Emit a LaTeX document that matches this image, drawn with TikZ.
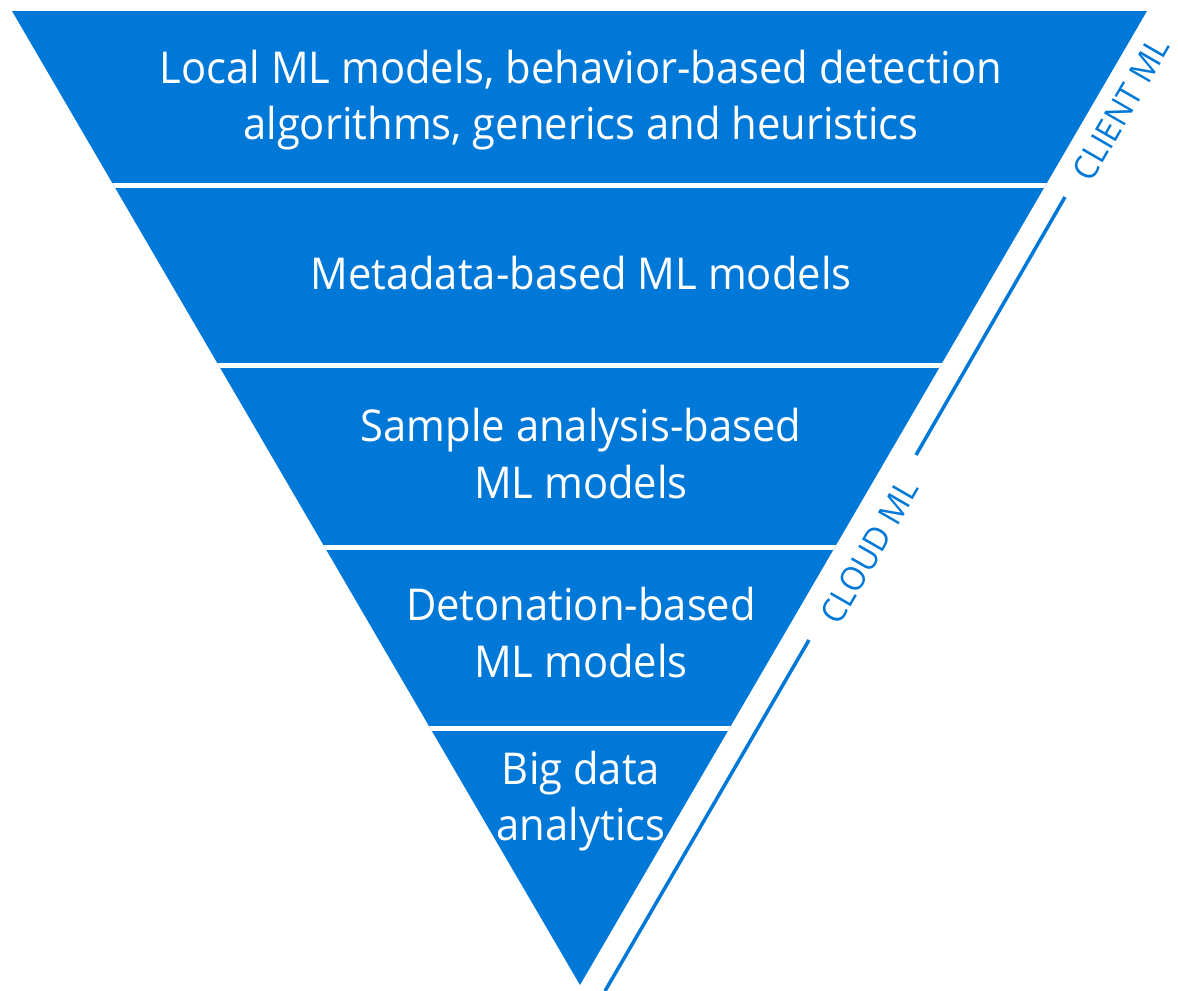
\documentclass[tikz,border=0pt]{standalone}
\usepackage{fontspec}
\setmainfont{Open Sans}[FakeStretch=0.95]
\definecolor{msblue}{RGB}{0,120,215}
\begin{document}
\begin{tikzpicture}[x=0.02cm,y=-0.02cm,
  band/.style={inner sep=1pt,text=white,align=center,font=\fontsize{25}{32.3}\selectfont},
  side/.style={inner sep=0pt,text=msblue,rotate=60,font=\fontsize{19}{23}\selectfont},
  gap/.style={white,line width=0.1cm},
  rail/.style={msblue,line width=0.07cm}]
\useasboundingbox (0,0) rectangle (1178,991);
\coordinate (t0) at (12,11);
\coordinate (t1) at (1147,11);
\coordinate (t2) at (580,985);
\fill[msblue] (t0) -- (t1) -- (t2) -- cycle;
\begin{scope}
\clip (t0) -- (t1) -- (t2) -- cycle;
\foreach \y in {185.8,365.8,547.7,728.5}
  \draw[gap] (0,\y) -- (1178,\y);
\end{scope}
\node[band] (b1) at (581,100) {Local ML models, behavior-based detection\\algorithms, generics and heuristics};
\node[band] (b2) at (581,273.5) {Metadata-based ML models};
\node[band] (b3) at (581,453.4) {Sample analysis-based\\ML models};
\node[band] (b4) at (581,632.7) {Detonation-based\\ML models};
\node[band] (b5) at (581,801) {Big data\\analytics};
\coordinate (r0) at (1065,197);
\coordinate (r1) at (916,455);
\coordinate (r2) at (809,640);
\coordinate (r3) at (605,991);
\draw[rail] (r0) to (r1);
\draw[rail] (r2) to (r3);
\node[side] (client) at (1121,109) {CLIENT ML};
\node[side] (cloud) at (869.5,551.5) {CLOUD ML};
\end{tikzpicture}
\end{document}
